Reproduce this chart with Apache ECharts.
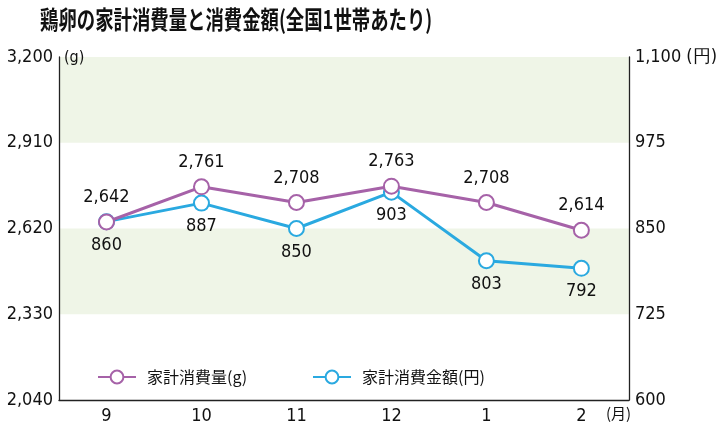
<!DOCTYPE html>
<html><head><meta charset="utf-8">
<script src="https://cdn.jsdelivr.net/npm/echarts@6/dist/echarts.min.js"></script>
<style>html,body{margin:0;padding:0;background:#fff}#c{width:720px;height:433px}</style>
</head><body><div id="c"></div>
<script>
const titleText = '鶏卵の家計消費量と消費金額(全国1世帯あたり)';
const months = ['9','10','11','12','1','2'];
const qtyName = '家計消費量(g)';
const amtName = '家計消費金額(円)';
const qtyValues = [2642, 2761, 2708, 2763, 2708, 2614];
const amtValues = [860, 887, 850, 903, 803, 792];
const leftTicks = [2040, 2330, 2620, 2910, 3200];
const rightTicks = [600, 725, 850, 975, 1100];
const bands = [[2910, 3200], [2330, 2620]];

const NUM = "'DejaVu Sans Condensed','Liberation Sans Narrow',sans-serif";
const JP = "'Noto Sans CJK JP',sans-serif";
const pink = '#a662a8';
const blue = '#2aa9e0';
const fmt = v => String(v).replace(/\B(?=(\d{3})+(?!\d))/g, ',');

const chart = echarts.init(document.getElementById('c'));
chart.setOption({
  animation: false,
  backgroundColor: '#fff',
  grid: {left: 59, right: 86, top: 57, bottom: 33},
  graphic: [
    {type: 'text', left: 40, top: 7, z: 100, scaleX: 0.735, style: {text: titleText, font: "bold 25px 'Noto Sans CJK JP',sans-serif", fill: '#111'}},
    {type: 'text', left: 64, top: 50, z: 100, style: {text: '(g)', font: "16px " + NUM, fill: '#111'}},
    {type: 'text', left: 606, top: 406, z: 100, style: {text: '(月)', font: "15px " + JP, fill: '#111'}}
  ],
  legend: [
    {data: [qtyName], left: 92, top: 364, itemWidth: 38, itemHeight: 16, itemGap: 0,
     textStyle: {fontFamily: JP, fontSize: 16, color: '#111', padding: [0,0,0,6]}},
    {data: [amtName], left: 307, top: 364, itemWidth: 38, itemHeight: 16, itemGap: 0,
     textStyle: {fontFamily: JP, fontSize: 16, color: '#111', padding: [0,0,0,6]}}
  ],
  xAxis: {
    type: 'category', data: months, boundaryGap: true,
    axisLine: {lineStyle: {color: '#222', width: 1.3}},
    axisTick: {inside: true, length: 6, alignWithLabel: true, lineStyle: {color: '#222'}},
    axisLabel: {fontFamily: NUM, fontSize: 18, color: '#111', margin: 7}
  },
  yAxis: [
    {type: 'value', min: 2040, max: 3200, position: 'left',
     axisLine: {show: true, lineStyle: {color: '#222', width: 1.3}},
     axisTick: {show: false}, splitLine: {show: false},
     axisLabel: {customValues: leftTicks, formatter: v => fmt(v), fontFamily: NUM, fontSize: 18, color: '#111', margin: 6, padding: [4,0,0,0]}},
    {type: 'value', min: 600, max: 1100, position: 'right',
     axisLine: {show: true, lineStyle: {color: '#222', width: 1.3}},
     axisTick: {show: false}, splitLine: {show: false},
     axisLabel: {customValues: rightTicks, formatter: v => v === 1100 ? fmt(v) + ' (円)' : fmt(v), fontFamily: NUM, fontSize: 18, color: '#111', margin: 6, padding: [4,0,0,0]}}
  ],
  series: [
    {name: qtyName, type: 'line', yAxisIndex: 0, data: qtyValues, z: 3,
     symbol: 'emptyCircle', symbolSize: 15,
     lineStyle: {color: pink, width: 3}, itemStyle: {color: pink, borderWidth: 3},
     label: {show: true, position: 'top', distance: 7, formatter: p => fmt(p.value), fontFamily: NUM, fontSize: 18, color: '#111'},
     markArea: {silent: true, itemStyle: {color: '#eff5e7'}, z: 0,
       data: bands.map(b => [{yAxis: b[0]}, {yAxis: b[1]}])}},
    {name: amtName, type: 'line', yAxisIndex: 1, data: amtValues, z: 2,
     symbol: 'emptyCircle', symbolSize: 15,
     lineStyle: {color: blue, width: 3}, itemStyle: {color: blue, borderWidth: 3},
     label: {show: true, position: 'bottom', distance: 6, formatter: p => fmt(p.value), fontFamily: NUM, fontSize: 18, color: '#111'}}
  ]
});
</script></body></html>
